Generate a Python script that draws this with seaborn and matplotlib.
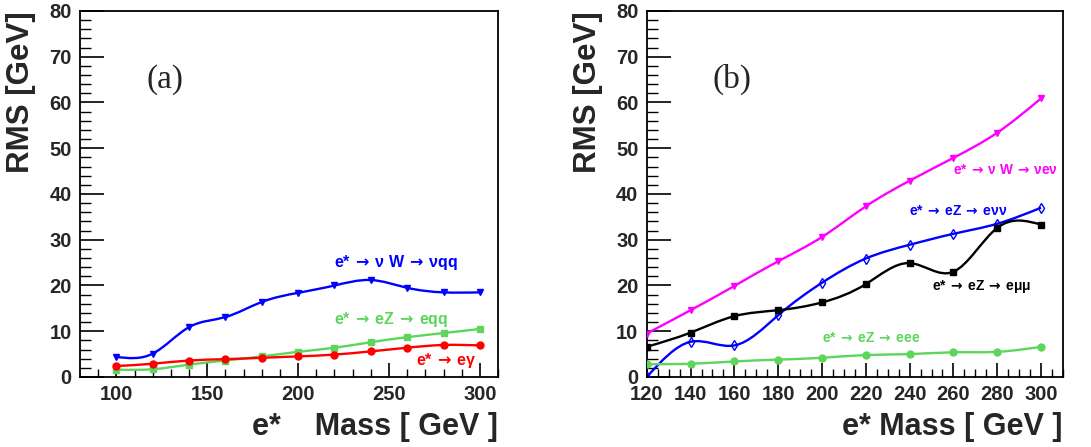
import matplotlib

matplotlib.use("Agg")

import matplotlib.pyplot as plt
import numpy as np
import seaborn as sns
from matplotlib.patches import PathPatch
from matplotlib.path import Path

# panel (a): e* -> hadronic / photon channels
mass_a = [100, 120, 140, 160, 180, 200, 220, 240, 260, 280, 300]
rms_nuqq = [4.4, 5.1, 10.9, 13.1, 16.4, 18.4, 20.0, 21.2, 19.5, 18.5, 18.5]
rms_eqq = [1.6, 1.7, 2.7, 3.6, 4.5, 5.5, 6.4, 7.6, 8.7, 9.6, 10.5]
rms_egamma = [2.4, 2.9, 3.6, 3.9, 4.2, 4.5, 4.9, 5.6, 6.4, 7.0, 6.9]

# panel (b): leptonic channels
mass_b = [120, 140, 160, 180, 200, 220, 240, 260, 280, 300]
rms_nuenu = [9.5, 14.6, 19.9, 25.3, 30.6, 37.3, 42.9, 47.9, 53.4, 60.9]
rms_enunu = [0.0, 7.7, 6.9, 13.5, 20.6, 25.9, 28.9, 31.3, 33.5, 37.0]
rms_emumu = [6.6, 9.7, 13.3, 14.6, 16.3, 20.3, 24.9, 23.0, 32.6, 33.3]
rms_eee = [2.8, 2.9, 3.4, 3.8, 4.2, 4.8, 5.0, 5.4, 5.5, 6.6]

BLUE = "#0000ff"
GREEN = "#5cd65c"
RED = "#ff0000"
MAGENTA = "#ff00ff"
BLACK = "#000000"

ARROW = r"$\,{\rightarrow}\,$"

sns.set_style("ticks")
plt.rcParams["font.family"] = ["Liberation Sans", "DejaVu Sans"]
plt.rcParams["font.weight"] = "bold"
plt.rcParams["mathtext.fontset"] = "dejavusans"


def _smooth_curve(ax, x, y, color):
    # natural cubic spline through the points, drawn as exact bezier segments
    x = np.asarray(x, dtype=float)
    y = np.asarray(y, dtype=float)
    n = len(x)
    h = np.diff(x)
    A = np.zeros((n, n))
    b = np.zeros(n)
    A[0, 0] = A[-1, -1] = 1.0
    for i in range(1, n - 1):
        A[i, i - 1] = h[i - 1]
        A[i, i] = 2 * (h[i - 1] + h[i])
        A[i, i + 1] = h[i]
        b[i] = 6 * ((y[i + 1] - y[i]) / h[i] - (y[i] - y[i - 1]) / h[i - 1])
    m = np.linalg.solve(A, b)
    verts = [(x[0], y[0])]
    codes = [Path.MOVETO]
    for i in range(n - 1):
        slope = (y[i + 1] - y[i]) / h[i]
        d0 = slope - h[i] * (2 * m[i] + m[i + 1]) / 6
        d1 = slope + h[i] * (m[i] + 2 * m[i + 1]) / 6
        verts += [
            (x[i] + h[i] / 3, y[i] + h[i] / 3 * d0),
            (x[i + 1] - h[i] / 3, y[i + 1] - h[i] / 3 * d1),
            (x[i + 1], y[i + 1]),
        ]
        codes += [Path.CURVE4] * 3
    ax.add_patch(PathPatch(Path(verts, codes), fill=False, edgecolor=color, lw=1.7, zorder=2))


def _series(ax, x, y, color, marker, open_marker=False):
    _smooth_curve(ax, x, y, color)
    sns.lineplot(
        x=x, y=y, ax=ax, color=color, marker=marker, linestyle="", markersize=5,
        markeredgecolor=color, markerfacecolor="none" if open_marker else color,
        markeredgewidth=1.0, zorder=3, legend=False,
    )


def _style_axes(ax, xlim, xmajor, xminor, xlabel):
    ax.set_xlim(*xlim)
    ax.set_ylim(0, 80)
    ax.set_xticks(np.arange(xmajor[0], xlim[1] + 0.1, xmajor[1]))
    ax.set_xticks(np.arange(xminor[0], xlim[1] + 0.1, xminor[1]), minor=True)
    ax.set_yticks(np.arange(0, 81, 10))
    ax.set_yticks(np.arange(0, 81, 2), minor=True)
    for spine in ax.spines.values():
        spine.set_visible(True)
        spine.set_linewidth(1.3)
        spine.set_color("black")
    ax.tick_params(axis="both", which="both", direction="in", top=False, right=False, color="black")
    ax.tick_params(axis="y", which="major", length=17, width=1.2, pad=6, labelsize=14.5)
    ax.tick_params(axis="y", which="minor", length=8, width=1.0)
    ax.tick_params(axis="x", which="major", length=10, width=1.2, pad=6, labelsize=14.5)
    ax.tick_params(axis="x", which="minor", length=6, width=1.0)
    for lab in ax.get_xticklabels() + ax.get_yticklabels():
        lab.set_fontweight("bold")
    ax.set_ylabel("RMS [GeV]", loc="top", fontsize=22.5, fontweight="bold")
    ax.yaxis.set_label_coords(-0.105, 1.0)
    ax.set_xlabel(xlabel, loc="right", fontsize=22, fontweight="bold")
    ax.xaxis.set_label_coords(1.0, -0.095)


def _tag(ax, x, y, parts, color, size, ha="left"):
    # ROOT-style decay label: "e* -> X -> Y"
    ax.text(x, y, ARROW.join(parts), color=color, fontsize=size, fontweight="bold", va="center", ha=ha)


fig = plt.figure(figsize=(10.91, 4.47), dpi=100)
ax_a = fig.add_axes([0.0733, 0.1566, 0.3832, 0.8188])
ax_b = fig.add_axes([0.5928, 0.1566, 0.3815, 0.8188])

# (a)
_series(ax_a, mass_a, rms_nuqq, BLUE, "v")
_series(ax_a, mass_a, rms_eqq, GREEN, "s")
_series(ax_a, mass_a, rms_egamma, RED, "o")
_style_axes(ax_a, (80, 310), (100, 50), (90, 10), "e*    Mass [ GeV ]")
ax_a.text(127, 65, "(a)", family="Liberation Serif", fontweight="normal", fontsize=24, ha="center", va="center")
_tag(ax_a, 220, 25.1, ["e*", "ν W", "νqq"], BLUE, 11.5)
_tag(ax_a, 220, 12.5, ["e*", "eZ", "eqq"], GREEN, 11.5)
_tag(ax_a, 298, 3.7, ["e*", "eγ"], RED, 11.5, ha="right")

# (b)
_series(ax_b, mass_b, rms_nuenu, MAGENTA, "v")
_series(ax_b, mass_b, rms_enunu, BLUE, "d", open_marker=True)
_series(ax_b, mass_b, rms_emumu, BLACK, "s")
_series(ax_b, mass_b, rms_eee, GREEN, "o")
_style_axes(ax_b, (120, 310), (120, 20), (120, 5), "e* Mass [ GeV ]")
ax_b.text(159, 65, "(b)", family="Liberation Serif", fontweight="normal", fontsize=24, ha="center", va="center")
_tag(ax_b, 259.6, 45.2, ["e*", "ν W", "νeν"], MAGENTA, 9.8)
_tag(ax_b, 239.5, 36.3, ["e*", "eZ", "eνν"], BLUE, 10)
_tag(ax_b, 250, 19.7, ["e*", "eZ", "eμμ"], BLACK, 10)
_tag(ax_b, 200, 8.5, ["e*", "eZ", "eee"], GREEN, 10)

fig.savefig("out.png", dpi=100)
plt.close(fig)
